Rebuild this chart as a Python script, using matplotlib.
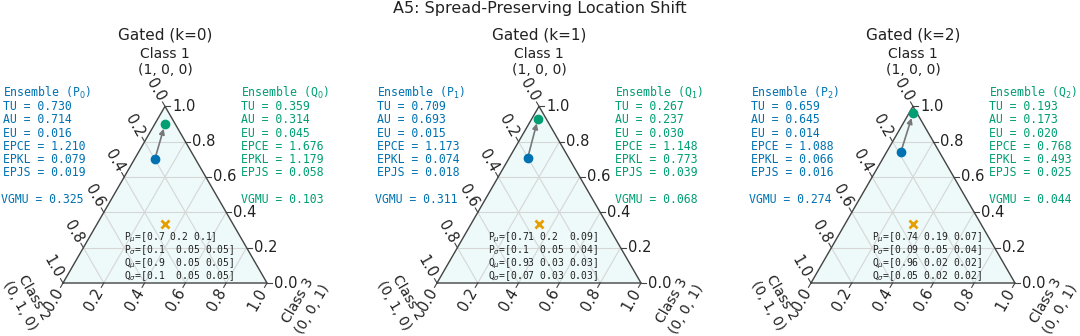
import numpy as np
import matplotlib
matplotlib.use('Agg')
import matplotlib.pyplot as plt


#**************************************************#
# data

panel_titles = ['Gated (k=0)', 'Gated (k=1)', 'Gated (k=2)']
class_names = ['Class 1\n(1, 0, 0)', 'Class 2\n(0, 1, 0)', 'Class 3\n(0, 0, 1)']

# (class 1, class 2, class 3)
P_mu = [[0.7, 0.2, 0.1], [0.71, 0.2, 0.09], [0.74, 0.19, 0.07]]
P_sigma = [[0.1, 0.05, 0.05], [0.1, 0.05, 0.04], [0.09, 0.05, 0.04]]
Q_mu = [[0.9, 0.05, 0.05], [0.93, 0.03, 0.03], [0.96, 0.02, 0.02]]
Q_sigma = [[0.1, 0.05, 0.05], [0.07, 0.03, 0.03], [0.05, 0.02, 0.02]]
center = [1/3, 1/3, 1/3]

metric_names = ['TU', 'AU', 'EU', 'EPCE', 'EPKL', 'EPJS']
P_metrics = [[0.730, 0.714, 0.016, 1.210, 0.079, 0.019],
             [0.709, 0.693, 0.015, 1.173, 0.074, 0.018],
             [0.659, 0.645, 0.014, 1.088, 0.066, 0.016]]
Q_metrics = [[0.359, 0.314, 0.045, 1.676, 1.179, 0.058],
             [0.267, 0.237, 0.030, 1.148, 0.773, 0.039],
             [0.193, 0.173, 0.020, 0.768, 0.493, 0.025]]
P_vgmu = [0.325, 0.311, 0.274]
Q_vgmu = [0.103, 0.068, 0.044]

ticks = [0.0, 0.2, 0.4, 0.6, 0.8, 1.0]


#**************************************************#
# helpers

BLUE = '#0072B2'
GREEN = '#009E73'
ORANGE = '#E69F00'
DARK = '#222222'
EDGE = '#444444'
H = np.sqrt(3) / 2
MONO = 'DejaVu Sans Mono'


def tern(p):
    # p = (t, l, r) -> cartesian, bottom-left vertex at origin, side 1
    t, l, r = p
    return r + t / 2, t * H


#**************************************************#
# create plot

W, Hpx = 1080, 336
fig = plt.figure(figsize=(W / 100, Hpx / 100), dpi=100)
S = 204.0              # pixels per unit side
x_bl = [63, 437, 811]  # bottom-left vertex of each triangle (px)
y_bl = 53


def py_img(y_img):
    # image row (from top) -> data y
    return (Hpx - y_bl - y_img) / S


fig.text(0.5, 1 - 8 / Hpx, 'A5: Spread-Preserving Location Shift',
         ha='center', va='center', fontsize=11.5, color=DARK)

tick_len = 5 / S
lab_off = 7 / S

for k in range(3):
    left_px = x_bl[k] - 110
    ax = fig.add_axes([left_px / W, 0, 330 / W, 1])
    ax.set_xlim(-110 / S, 220 / S)
    ax.set_ylim(-y_bl / S, (Hpx - y_bl) / S)
    ax.axis('off')

    # triangle
    ax.fill([0, 1, 0.5], [0, 0, H], color='#eef9f9', zorder=0)
    ax.plot([0, 1, 0.5, 0], [0, 0, H, 0], color=EDGE, lw=1.0, zorder=2)

    # grid
    for v in ticks[1:-1]:
        for a, b in [((v, 1 - v, 0), (v, 0, 1 - v)),
                     ((0, v, 1 - v), (1 - v, v, 0)),
                     ((0, 1 - v, v), (1 - v, 0, v))]:
            xa, ya = tern(a)
            xb, yb = tern(b)
            ax.plot([xa, xb], [ya, yb], color='#d6d6d6', lw=0.8, zorder=1)

    # ticks and tick labels
    for v in ticks:
        lab = f'{v:.1f}'
        # class 1 on the right edge
        x, y = tern((v, 0, 1 - v))
        ax.plot([x, x + tick_len], [y, y], color=EDGE, lw=0.8, clip_on=False)
        ax.text(x + lab_off, y, lab, ha='left', va='center', fontsize=10.5,
                color=DARK)
        # class 2 on the left edge
        dx, dy = -0.5, H
        x, y = tern((1 - v, v, 0))
        ax.plot([x, x + dx * tick_len], [y, y + dy * tick_len], color=EDGE,
                lw=0.8, clip_on=False)
        ax.text(x + dx * lab_off, y + dy * lab_off, lab, ha='right', va='center',
                rotation=-60, rotation_mode='anchor', fontsize=10.5, color=DARK)
        # class 3 on the bottom edge
        dx, dy = -0.5, -H
        x, y = tern((0, 1 - v, v))
        ax.plot([x, x + dx * tick_len], [y, y + dy * tick_len], color=EDGE,
                lw=0.8, clip_on=False)
        ax.text(x + dx * lab_off, y + dy * lab_off, lab, ha='right', va='center',
                rotation=60, rotation_mode='anchor', fontsize=10.5, color=DARK)

    # corner labels
    ax.text(0.5, 1.083, class_names[0], ha='center', va='center',
            fontsize=10, color=DARK)
    ax.text(-36 / S, -19 / S, class_names[1], ha='center', va='center',
            rotation=-60, fontsize=10, color=DARK)
    ax.text(1 + 38 / S, -22 / S, class_names[2], ha='center', va='center',
            rotation=60, fontsize=10, color=DARK)

    # panel title
    ax.text(0.5, 1.216, panel_titles[k], ha='center', va='center',
            fontsize=11, color=DARK)

    # points and arrow
    px, py = tern(P_mu[k])
    qx, qy = tern(Q_mu[k])
    cx, cy = tern(center)
    ax.annotate('', xy=(qx, qy), xytext=(px, py),
                arrowprops=dict(arrowstyle='-|>', color='#777777', lw=1.2,
                                mutation_scale=8, shrinkA=0, shrinkB=3.5),
                zorder=3)
    ax.plot(px, py, 'o', color=BLUE, ms=6, zorder=4)
    ax.plot(qx, qy, 'o', color=GREEN, ms=6, zorder=4)
    ax.plot(cx, cy, 'x', color=ORANGE, ms=6, mew=2, zorder=4)

    # parameter notes, one line each
    notes = [
        'P$_{\\mu}$=' + str(np.array(P_mu[k])),
        'P$_{\\sigma}$=' + str(np.array(P_sigma[k])),
        'Q$_{\\mu}$=' + str(np.array(Q_mu[k])),
        'Q$_{\\sigma}$=' + str(np.array(Q_sigma[k])),
    ]
    note_x = 0.25 if k == 1 else 0.299
    for i, line in enumerate(notes):
        ax.text(note_x, py_img(240.5 + 12.9 * i), line, ha='left',
                va='baseline', family=MONO, fontsize=7, color=DARK, zorder=5)

    # metric blocks, one line each
    p_lines = [f'Ensemble (P$_{{{k}}}$)'] + [
        f'{n} = {v:.3f}' for n, v in zip(metric_names, P_metrics[k])]
    q_lines = [f'Ensemble (Q$_{{{k}}}$)'] + [
        f'{n} = {v:.3f}' for n, v in zip(metric_names, Q_metrics[k])]
    for i, (pl, ql) in enumerate(zip(p_lines, q_lines)):
        yb = py_img(97 + 13.2 * i)
        ax.text(-0.294, yb, pl, ha='left', va='baseline', family=MONO,
                fontsize=8.3, color=BLUE)
        ax.text(0.873, yb, ql, ha='left', va='baseline', family=MONO,
                fontsize=8.3, color=GREEN)
    ax.text(-0.302, py_img(203.5), f'VGMU = {P_vgmu[k]:.3f}', ha='left',
            va='baseline', family=MONO, fontsize=8.3, color=BLUE)
    ax.text(0.873, py_img(203.5), f'VGMU = {Q_vgmu[k]:.3f}', ha='left',
            va='baseline', family=MONO, fontsize=8.3, color=GREEN)

fig.savefig('out.png', dpi=100)
